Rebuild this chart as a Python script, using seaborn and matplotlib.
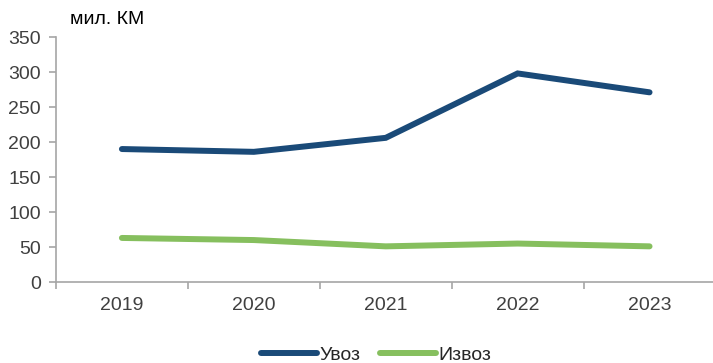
import matplotlib
matplotlib.use("Agg")
import matplotlib.pyplot as plt
import seaborn as sns
import pandas as pd
import numpy as np

years = ["2019", "2020", "2021", "2022", "2023"]
import_vals = [190, 186, 206, 298, 271]   # Увоз
export_vals = [63, 60, 51, 55, 51]        # Извоз
series_names = ["Увоз", "Извоз"]
colors = ["#1a4a78", "#86bf5e"]

sns.set_theme(style="white")
plt.rcParams["font.family"] = ["Liberation Sans Narrow", "Liberation Sans", "DejaVu Sans"]

df = pd.DataFrame({
    "pos": list(range(len(years))) * 2,
    "value": import_vals + export_vals,
    "series": [series_names[0]] * len(years) + [series_names[1]] * len(years),
})

fig = plt.figure(figsize=(7.13, 3.63), dpi=100)
ax = fig.add_axes([0.0785, 0.223, 0.925, 0.675])

sns.lineplot(data=df, x="pos", y="value", hue="series", palette=colors,
             linewidth=4.3, ax=ax, legend=True)
for ln in ax.lines:
    ln.set_solid_capstyle("round")
    ln.set_solid_joinstyle("miter")

ax.set_xlim(-0.5, len(years) - 0.5)
ax.set_ylim(0, 350)
ax.set_yticks(np.arange(0, 351, 50))
ax.set_xticks(range(len(years)))
ax.set_xticklabels(years)
ax.set_xticks(np.arange(-0.5, len(years) - 0.4, 1.0), minor=True)
ax.set_xlabel("")
ax.set_ylabel("")

gray = "#a6a6a6"
fs = 14
for side in ["top", "right"]:
    ax.spines[side].set_visible(False)
for side in ["left", "bottom"]:
    ax.spines[side].set_color(gray)
    ax.spines[side].set_linewidth(1.2)

ax.tick_params(axis="y", which="major", direction="out", length=5, width=1.2,
               color=gray, labelsize=fs, labelcolor="#404040", pad=6, left=True)
ax.tick_params(axis="x", which="major", length=0, labelsize=fs,
               labelcolor="#404040", pad=11)
ax.tick_params(axis="x", which="minor", direction="out", length=5, width=1.2,
               color=gray, bottom=True)

fig.text(0.098, 0.945, "мил. КМ", fontsize=fs, color="#000000", ha="left", va="center")

handles, labels = ax.get_legend_handles_labels()
for h in handles:
    h.set_linewidth(4.3)
    h.set_solid_capstyle("round")
ax.legend(handles, labels, loc="lower center", bbox_to_anchor=(0.485, -0.365),
          ncol=2, frameon=False, fontsize=fs, handlelength=2.9, handletextpad=0.1,
          columnspacing=1.0, borderaxespad=0)

fig.savefig("out.png", dpi=100)
